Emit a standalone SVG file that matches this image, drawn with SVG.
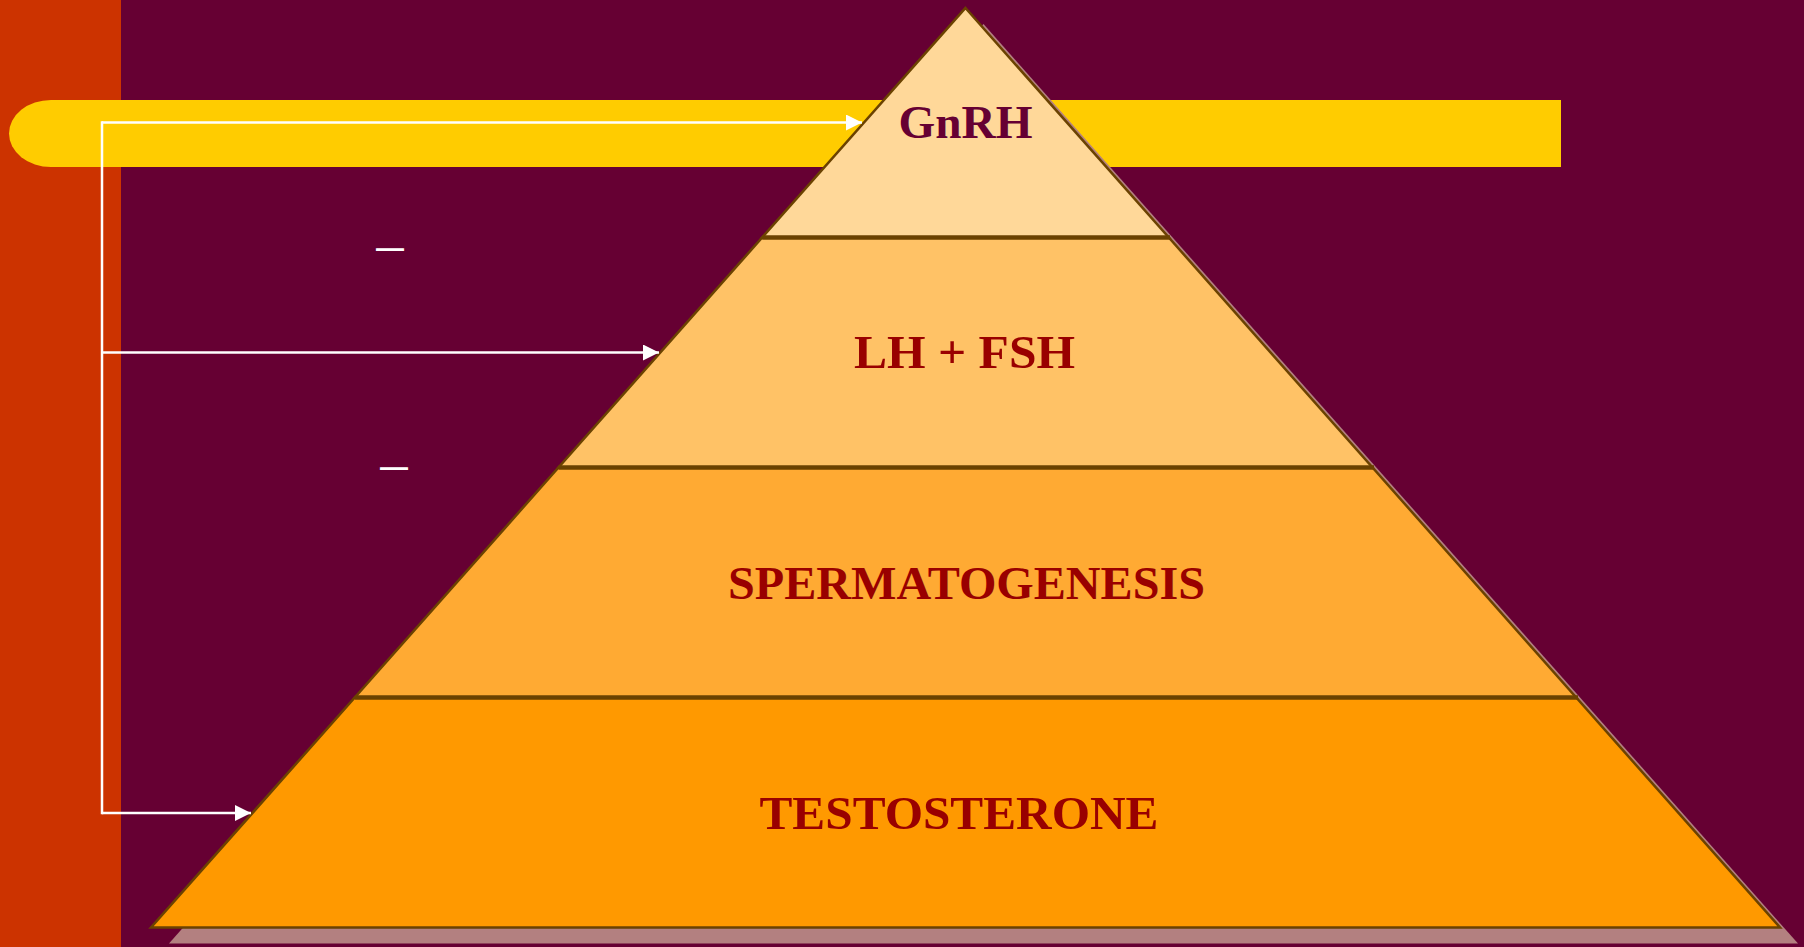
<svg xmlns="http://www.w3.org/2000/svg" width="1804" height="947" viewBox="0 0 1804 947">
<defs>
<style>
.layer{stroke:#6B4200;stroke-width:2.5;stroke-linejoin:miter}
.sep{stroke:#6B4200;stroke-width:4.5}
.lbl{font-family:"Liberation Serif","Times New Roman",serif;font-weight:bold;font-size:47px;text-anchor:middle}
.conn{stroke:#FFFFFF;stroke-width:2.5;fill:none}
.dash{font-family:"Liberation Sans",Arial,sans-serif;font-weight:bold;font-size:28px;fill:#FFFFFF}
</style>
<marker id="arr" markerUnits="userSpaceOnUse" markerWidth="16" markerHeight="16" refX="16" refY="8" orient="auto">
<path d="M0,0 L16,8 L0,16 Z" fill="#FFFFFF"/>
</marker>
</defs>
<rect x="0" y="0" width="1804" height="947" fill="#660033"/>
<rect x="0" y="0" width="121" height="947" fill="#CC3300"/>
<path d="M51,100 H1561 V167 H51 A42 33.5 0 0 1 51,100 Z" fill="#FFCC00"/>
<polygon points="983.5,24 1798,943.5 169,943.5" fill="#B38080"/>
<g id="node-testosterone">
<polygon class="layer" points="354.8,697.5 1576.2,697.5 1780,927.5 151,927.5" fill="#FF9900"/>
<text class="lbl" x="959" y="829.3" fill="#990000" textLength="399" lengthAdjust="spacingAndGlyphs">TESTOSTERONE</text>
</g>
<g id="node-spermatogenesis">
<polygon class="layer" points="558.5,467.5 1372.5,467.5 1576.2,697.5 354.8,697.5" fill="#FFAA33"/>
<text class="lbl" x="966.5" y="599" fill="#990000" textLength="477" lengthAdjust="spacingAndGlyphs">SPERMATOGENESIS</text>
</g>
<g id="node-lhfsh">
<polygon class="layer" points="762.2,237.5 1168.8,237.5 1372.5,467.5 558.5,467.5" fill="#FFC266"/>
<text class="lbl" x="964.5" y="368.3" fill="#990000" textLength="221" lengthAdjust="spacingAndGlyphs">LH + FSH</text>
</g>
<g id="node-gnrh">
<polygon class="layer" points="965.5,8 1168.8,237.5 762.2,237.5" fill="#FFD899"/>
<text class="lbl" x="965.5" y="137.7" fill="#660033" textLength="134" lengthAdjust="spacingAndGlyphs">GnRH</text>
</g>
<g id="separators">
<line class="sep" x1="762.2" y1="237.5" x2="1170" y2="237.5"/>
<line class="sep" x1="558.5" y1="467.5" x2="1374" y2="467.5"/>
<line class="sep" x1="354.8" y1="697.5" x2="1578" y2="697.5"/>
</g>
<g id="connectors">
<line class="conn" x1="102" y1="121.25" x2="102" y2="814.25"/>
<line class="conn" x1="102" y1="122.5" x2="862" y2="122.5" marker-end="url(#arr)"/>
<line class="conn" x1="102" y1="352.5" x2="659" y2="352.5" marker-end="url(#arr)"/>
<line class="conn" x1="102" y1="813" x2="251" y2="813" marker-end="url(#arr)"/>
</g>
<text class="dash" x="376" y="257" textLength="28" lengthAdjust="spacingAndGlyphs">—</text>
<text class="dash" x="380" y="476" textLength="28" lengthAdjust="spacingAndGlyphs">—</text>
</svg>
